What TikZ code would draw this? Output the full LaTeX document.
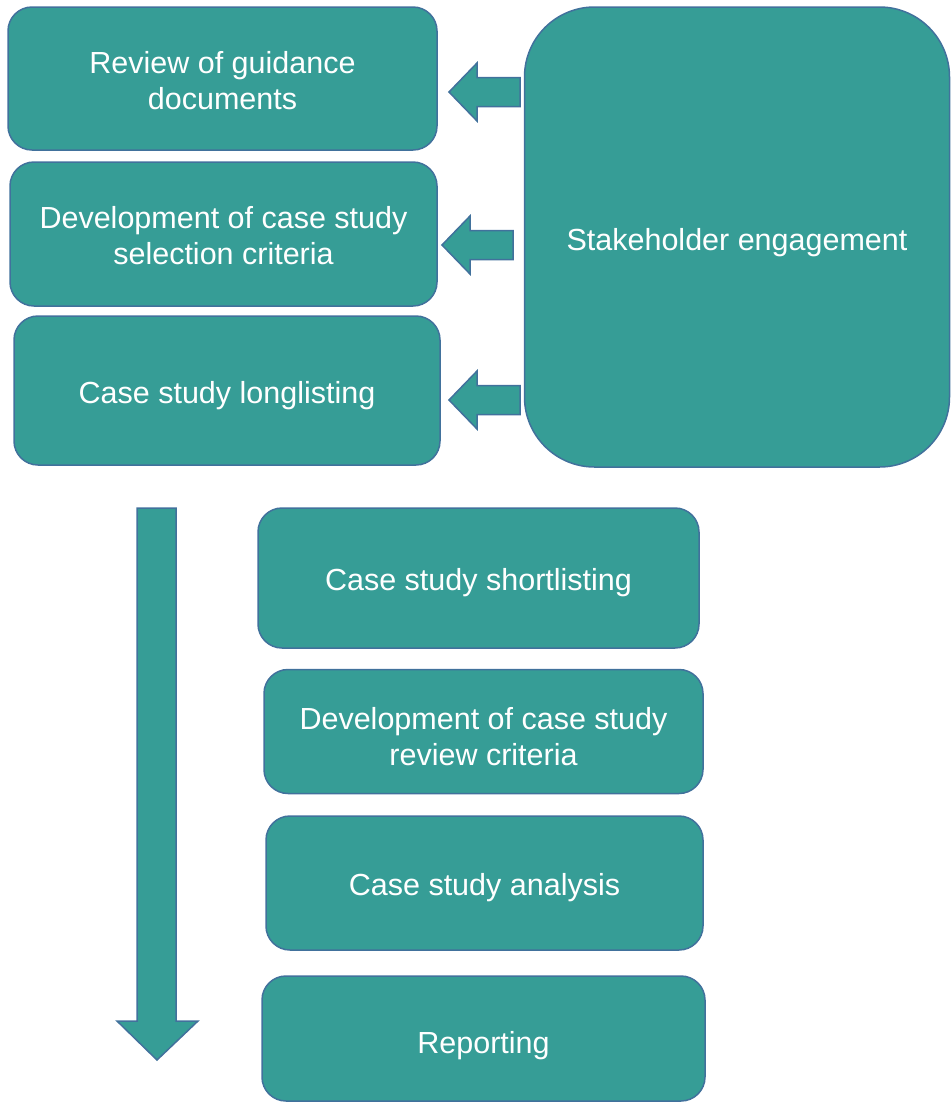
\documentclass[tikz,border=0pt]{standalone}
\usepackage{fontspec}
\setmainfont{Liberation Sans}
\definecolor{tealfill}{RGB}{54,157,150}
\definecolor{edgeblue}{RGB}{65,113,156}
\newcommand{\leftblock}[4]{% tip x, y, head base x, end x
  \draw[blk] (#1,#2) -- (#3,#2-29) -- (#3,#2-14.5) -- (#4,#2-14.5) -- (#4,#2+14.5) -- (#3,#2+14.5) -- (#3,#2+29) -- cycle;}
\begin{document}
\begin{tikzpicture}[x=1pt,y=-1pt,
  box/.style={draw=edgeblue, line width=1.5pt, fill=tealfill, rounded corners=24pt, inner sep=0pt},
  txt/.style={text=white, align=center, font=\fontsize{30.5}{36}\selectfont, inner sep=0pt},
  blk/.style={draw=edgeblue, line width=1.5pt, fill=tealfill, line join=miter}]
\useasboundingbox (0,0) rectangle (951,1104);
\node[box, minimum width=429pt, minimum height=143pt] (b1) at (222.5,78.5) {};
\node[txt] (t1) at ([yshift=-2pt]b1.center) {Review of guidance\\documents};
\node[box, minimum width=427pt, minimum height=144pt] (b2) at (223.5,234) {};
\node[txt] (t2) at ([yshift=-2pt]b2.center) {Development of case study\\selection criteria};
\node[box, minimum width=426pt, minimum height=149pt] (b3) at (227,390.5) {};
\node[txt] (t3) at ([yshift=-5pt]b3.center) {Case study longlisting};
\node[box, rounded corners=70pt, minimum width=425pt, minimum height=460pt] (se) at (737,237) {};
\node[txt] (tse) at ([yshift=-6pt]se.center) {Stakeholder engagement};
\node[box, minimum width=441pt, minimum height=140pt] (b4) at (478.5,578) {};
\node[txt] (t4) at ([yshift=-5pt]b4.center) {Case study shortlisting};
\node[box, minimum width=439pt, minimum height=124pt] (b5) at (483.5,731.5) {};
\node[txt] (t5) at ([yshift=-5pt]b5.center) {Development of case study\\review criteria};
\node[box, minimum width=437pt, minimum height=134pt] (b6) at (484.5,883) {};
\node[txt] (t6) at ([yshift=-5pt]b6.center) {Case study analysis};
\node[box, minimum width=443pt, minimum height=125pt] (b7) at (483.5,1038.5) {};
\node[txt] (t7) at ([yshift=-7pt]b7.center) {Reporting};
% block arrows from stakeholder engagement to the first three boxes
\leftblock{449}{92}{477}{520}
\leftblock{442}{245}{470}{513}
\leftblock{449}{400}{477}{520}
% downward process arrow
\draw[blk] (137,508) -- (176,508) -- (176,1021) -- (198,1021) -- (157,1060) -- (117,1021) -- (137,1021) -- cycle;
\end{tikzpicture}
\end{document}
